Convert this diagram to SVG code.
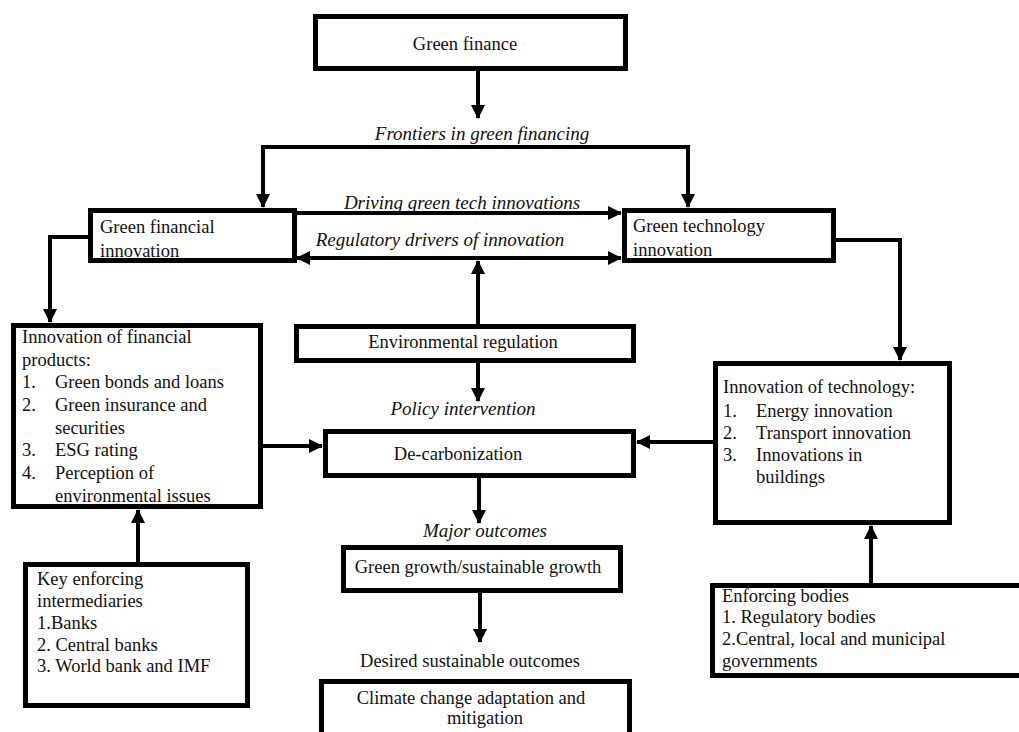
<svg xmlns="http://www.w3.org/2000/svg" width="1019" height="732" viewBox="0 0 1019 732" font-family="'Liberation Serif', 'DejaVu Serif', serif">
<style>
.box{fill:#fff;stroke:#000;stroke-width:5}
.ln{fill:none;stroke:#000;stroke-width:4}
text{font-family:'Liberation Serif','DejaVu Serif',serif;font-size:18.5px;fill:#111}
.it{font-style:italic;font-size:19px}
.c{text-anchor:middle}
</style>
<defs>
<marker id="ah" viewBox="0 0 14 14" refX="13" refY="7" markerWidth="14" markerHeight="14" markerUnits="userSpaceOnUse" orient="auto-start-reverse">
<path d="M0 0 L14 7 L0 14 Z" fill="#000"/>
</marker>
</defs>
<rect width="1019" height="732" fill="#fff"/>
<g id="connectors">
<path class="ln" d="M478 69 V118" marker-end="url(#ah)"/>
<path class="ln" d="M261 147 H690"/>
<path class="ln" d="M263 147 V207" marker-end="url(#ah)"/>
<path class="ln" d="M688 147 V207" marker-end="url(#ah)"/>
<path class="ln" d="M297 213 H621" marker-end="url(#ah)"/>
<path class="ln" d="M297 258 H621" marker-start="url(#ah)" marker-end="url(#ah)"/>
<path class="ln" d="M478 324 V261" marker-end="url(#ah)"/>
<path class="ln" d="M90 237 H50 V322" marker-end="url(#ah)"/>
<path class="ln" d="M836 240 H900 V360" marker-end="url(#ah)"/>
<path class="ln" d="M263 446 H322" marker-end="url(#ah)"/>
<path class="ln" d="M713 442 H637" marker-end="url(#ah)"/>
<path class="ln" d="M478 363 V401" marker-end="url(#ah)"/>
<path class="ln" d="M479 478 V523" marker-end="url(#ah)"/>
<path class="ln" d="M480 593 V642" marker-end="url(#ah)"/>
<path class="ln" d="M138 562 V510" marker-end="url(#ah)"/>
<path class="ln" d="M871 583 V526" marker-end="url(#ah)"/>
</g>
<g id="labels">
<text class="it c" x="482" y="140">Frontiers in green  financing</text>
<text class="it c" x="462" y="209">Driving green tech innovations</text>
<text class="it c" x="440" y="246">Regulatory drivers of innovation</text>
<text class="it c" x="463" y="415">Policy intervention</text>
<text class="it c" x="485" y="537">Major outcomes</text>
<text class="c" x="470" y="667">Desired sustainable  outcomes</text>
</g>
<g id="green-finance">
<rect class="box" x="315.5" y="16.5" width="310" height="52"/>
<text class="c" x="465" y="50">Green finance</text>
</g>
<g id="green-financial-innovation">
<rect class="box" x="90.5" y="210.5" width="204" height="50"/>
<text x="100" y="233">Green financial</text>
<text x="100" y="257">innovation</text>
</g>
<g id="green-technology-innovation">
<rect class="box" x="624.5" y="210.5" width="209" height="50"/>
<text x="633" y="232">Green technology</text>
<text x="633" y="256">innovation</text>
</g>
<g id="innovation-financial-products">
<rect class="box" x="13.5" y="325.5" width="247" height="181"/>
<text x="22" y="343">Innovation  of financial</text>
<text x="22" y="366">products:</text>
<text x="22" y="388">1.</text><text x="55" y="388">Green bonds and loans</text>
<text x="22" y="411">2.</text><text x="55" y="411">Green insurance  and</text>
<text x="55" y="434">securities</text>
<text x="22" y="456">3.</text><text x="55" y="456">ESG rating</text>
<text x="22" y="479">4.</text><text x="55" y="479">Perception  of</text>
<text x="55" y="502">environmental  issues</text>
</g>
<g id="environmental-regulation">
<rect class="box" x="296.5" y="326.5" width="337" height="34"/>
<text class="c" x="463" y="348">Environmental  regulation</text>
</g>
<g id="de-carbonization">
<rect class="box" x="325.5" y="431.5" width="308" height="44"/>
<text class="c" x="458" y="460">De-carbonization</text>
</g>
<g id="innovation-of-technology">
<rect class="box" x="715.5" y="363.5" width="234" height="159"/>
<text x="723" y="393">Innovation   of technology:</text>
<text x="723" y="417">1.</text><text x="756" y="417">Energy  innovation</text>
<text x="723" y="439">2.</text><text x="756" y="439">Transport  innovation</text>
<text x="723" y="461">3.</text><text x="756" y="461">Innovations  in</text>
<text x="756" y="483">buildings</text>
</g>
<g id="green-growth">
<rect class="box" x="343.5" y="547.5" width="277" height="43"/>
<text class="c" x="478" y="573">Green growth/sustainable  growth</text>
</g>
<g id="climate-change">
<rect class="box" x="321.5" y="681.5" width="308" height="70"/>
<text class="c" x="471" y="704">Climate  change  adaptation  and</text>
<text class="c" x="485" y="724">mitigation</text>
</g>
<g id="key-enforcing-intermediaries">
<rect class="box" x="25.5" y="564.5" width="222" height="141"/>
<text x="37" y="585">Key enforcing</text>
<text x="37" y="607">intermediaries</text>
<text x="37" y="629">1.Banks</text>
<text x="37" y="651">2. Central  banks</text>
<text x="37" y="672">3. World bank  and IMF</text>
</g>
<g id="enforcing-bodies">
<rect class="box" x="712.5" y="585.5" width="330" height="90"/>
<text x="722" y="602">Enforcing  bodies</text>
<text x="722" y="623">1. Regulatory  bodies</text>
<text x="722" y="645">2.Central,  local  and municipal</text>
<text x="722" y="667">governments</text>
</g>
</svg>
